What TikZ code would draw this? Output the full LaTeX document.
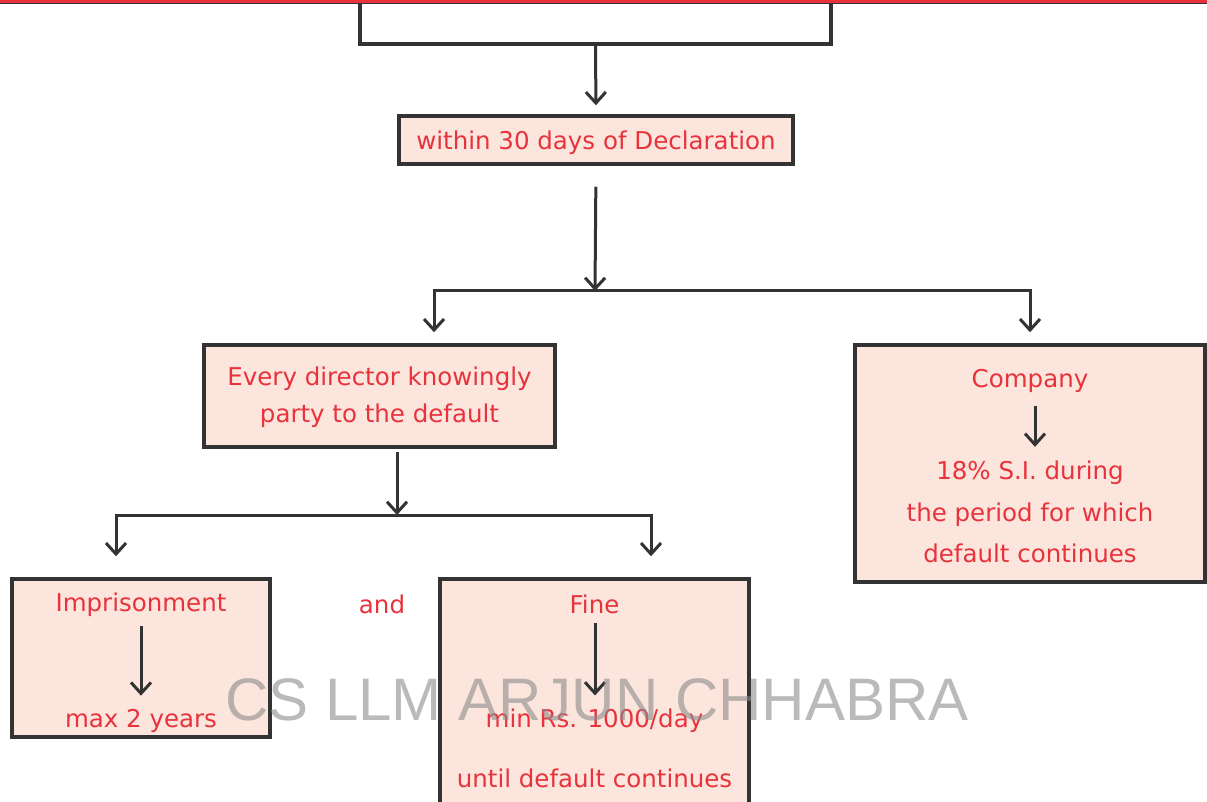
\documentclass[tikz,border=0pt]{standalone}
\usepackage{fontspec}
\setmainfont{DejaVu Sans}
\newfontfamily\markfont{Liberation Sans}
\usetikzlibrary{arrows.meta}
\definecolor{ink}{HTML}{333333}
\definecolor{peach}{HTML}{FCE5DC}
\definecolor{txtred}{HTML}{E8323C}
\definecolor{barred}{HTML}{E8313D}
\tikzset{
  box/.style={draw=ink, fill=peach, line width=3.5pt, inner sep=0pt},
  lbl/.style={text=txtred, font=\fontsize{24.5}{30}\selectfont, inner sep=0pt, align=center, yshift=-2.5pt},
  arr/.style={draw=ink, line width=3pt, -{Straight Barb[length=11pt, width=20pt, line width=3pt]}},
  wire/.style={draw=ink, line width=3pt},
}
\begin{document}
\begin{tikzpicture}[x=1pt, y=-1pt]
\useasboundingbox (0,0) rectangle (1207,802);
\fill[white] (0,0) rectangle (1207,802);

% boxes
\node[box, fill=white, minimum width=471pt, minimum height=60pt] (top) at (595.5,14) {};
\node[box, minimum width=394pt, minimum height=48pt] (within) at (596,140) {};
\node[box, minimum width=351pt, minimum height=102pt] (director) at (379.5,396) {};
\node[box, minimum width=350pt, minimum height=237pt] (company) at (1030,463.5) {};
\node[box, minimum width=258pt, minimum height=158pt] (prison) at (141,658) {};
\node[box, minimum width=309pt, minimum height=251pt] (fine) at (594.5,704.5) {};

% top rule
\fill[barred] (0,0) rectangle (1207,3.5);
\draw[ink, line width=1pt] (0,4) -- (1207,4);

% texts
\node[lbl] (withint) at (596,140) {within 30 days of Declaration};
\node[lbl] (dirt) at (379.5,394.5) {Every director knowingly\\[7pt]party to the default};
\node[lbl] (compt) at (1030,378) {Company};
\node[lbl] (sit) at (1030,509.5) {18\% S.I. during\\[11.5pt]the period for which\\[11.5pt]default continues};
\node[lbl] (prist) at (141,602) {Imprisonment};
\node[lbl] (maxt) at (141,718) {max 2 years};
\node[lbl] (andt) at (382,602) {and};
\node[lbl] (finet) at (594.5,602) {Fine};
\node[lbl] (mint) at (594.5,718) {min Rs. 1000/day};
\node[lbl] (untilt) at (594.5,776) {until default continues};

% branch points
\coordinate (b1) at (595,291);
\coordinate (b2) at (397,515);

% connectors
\draw[arr, shorten >=9pt] (top.south) -- (within.north);
\draw[arr, shorten <=21pt] (within.south) -- (b1);
\draw[wire] (b1) -- ++(-161,0);
\draw[wire] (b1) -- ++(435,0);
\draw[arr, shorten >=11pt] (b1) -| ([xshift=54.5pt]director.north);
\draw[arr, shorten >=11pt] (b1) -| (company.north);
\draw[arr, shorten <=3pt] (director.south -| b2) -- (b2);
\draw[wire] (b2) -- ++(-281,0);
\draw[wire] (b2) -- ++(254,0);
\draw[arr, shorten >=21pt] (b2) -| ([xshift=-25pt]prison.north);
\draw[arr, shorten >=21pt] (b2) -| ([xshift=56.5pt]fine.north);

% arrows inside the boxes
\draw[arr, shorten <=9pt, shorten >=13pt] (prist.south) -- (maxt.north);
\draw[arr, shorten <=9pt, shorten >=13pt] (finet.south -| 595,0) -- (mint.north -| 595,0);
\draw[arr, shorten <=14pt, shorten >=14pt] ([xshift=5pt]compt.south) -- ([xshift=5pt]sit.north);

% watermark
\node[text=black!45, opacity=0.6, font=\markfont\fontsize{60}{60}\selectfont, inner sep=0pt] (mark) at (597,700) {CS LLM ARJUN CHHABRA};
\end{tikzpicture}
\end{document}
